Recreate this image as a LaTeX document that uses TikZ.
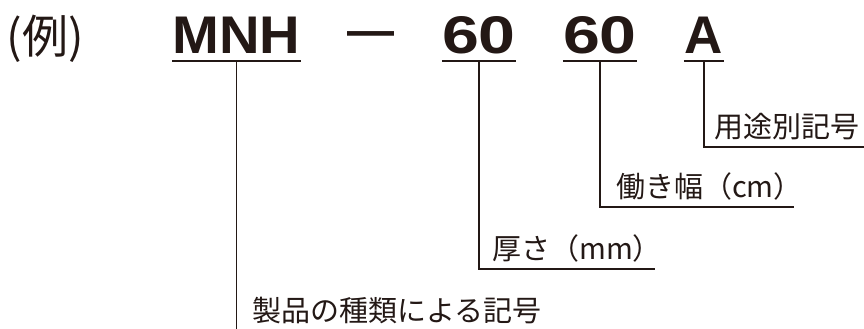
\documentclass[tikz,border=0pt]{standalone}
\usepackage{fontspec}
\setmainfont{Liberation Sans}
\newfontfamily\jp{Noto Sans CJK JP}
\definecolor{ink}{HTML}{231815}
\begin{document}
\begin{tikzpicture}[x=1pt,y=-1pt,
  tok/.style={inner xsep=0pt, inner ysep=7.4pt, text depth=0pt, anchor=base,
    font=\bfseries\fontsize{53}{53}\selectfont, text=ink},
  lab/.style={inner sep=0pt, inner ysep=9.5pt, text depth=0pt, anchor=south west,
    font=\jp\fontsize{29}{29}\selectfont, text=ink},
  ul/.style={draw=ink, line width=2.6pt},
  conn/.style={draw=ink, line width=1.7pt}]
\useasboundingbox (0,0) rectangle (864,329);
% header
\node[font=\jp\fontsize{46}{46}\selectfont, text=ink, inner sep=0pt, anchor=base] (ex) at (45,54) {(例)};
\node[tok, minimum width=123pt] (mnh) at (236.5,53.5) {\scalebox{1.06}[1]{MNH}};
\node[font=\bfseries\fontsize{47}{47}\selectfont, text=ink, inner sep=0pt, anchor=base] (dash) at (370.5,47) {—};
\node[tok, minimum width=72pt] (s1) at (479,53.5) {\scalebox{1.25}[1]{60}};
\node[tok, minimum width=72pt] (s2) at (600,53.5) {\scalebox{1.25}[1]{60}};
\node[tok, minimum width=40pt] (u) at (704,53.5) {A};
% underlines
\draw[ul] (mnh.south west) -- (mnh.south east);
\draw[ul] (s1.south west) -- (s1.south east);
\draw[ul] (s2.south west) -- (s2.south east);
\draw[ul] (u.south west) -- (u.south east);
% label levels
\coordinate (y4) at (0,146.7);
\coordinate (y3) at (0,207.3);
\coordinate (y2) at (0,269.3);
\coordinate (y1) at (0,329);
\node[lab] (l4) at (u.south |- y4) {\makebox[160pt][l]{\hspace*{10.5pt}用途別記号}};
\node[lab] (l3) at (s2.south |- y3) {\makebox[194pt][l]{\hspace*{16pt}働き幅（cm）}};
\node[lab] (l2) at (s1.south |- y2) {\makebox[176pt][l]{\hspace*{13pt}厚さ（mm）}};
\node[lab, inner ysep=7.5pt] (l1) at (mnh.south |- y1) {\makebox[320pt][l]{\hspace*{15.5pt}製品の種類による記号}};
% connectors
\draw[conn] (u.south) |- (l4.south east);
\draw[conn] (s2.south) |- (l3.south east);
\draw[conn] (s1.south) |- (l2.south east);
\draw[conn] (mnh.south) -- (l1.south west);
\end{tikzpicture}
\end{document}
